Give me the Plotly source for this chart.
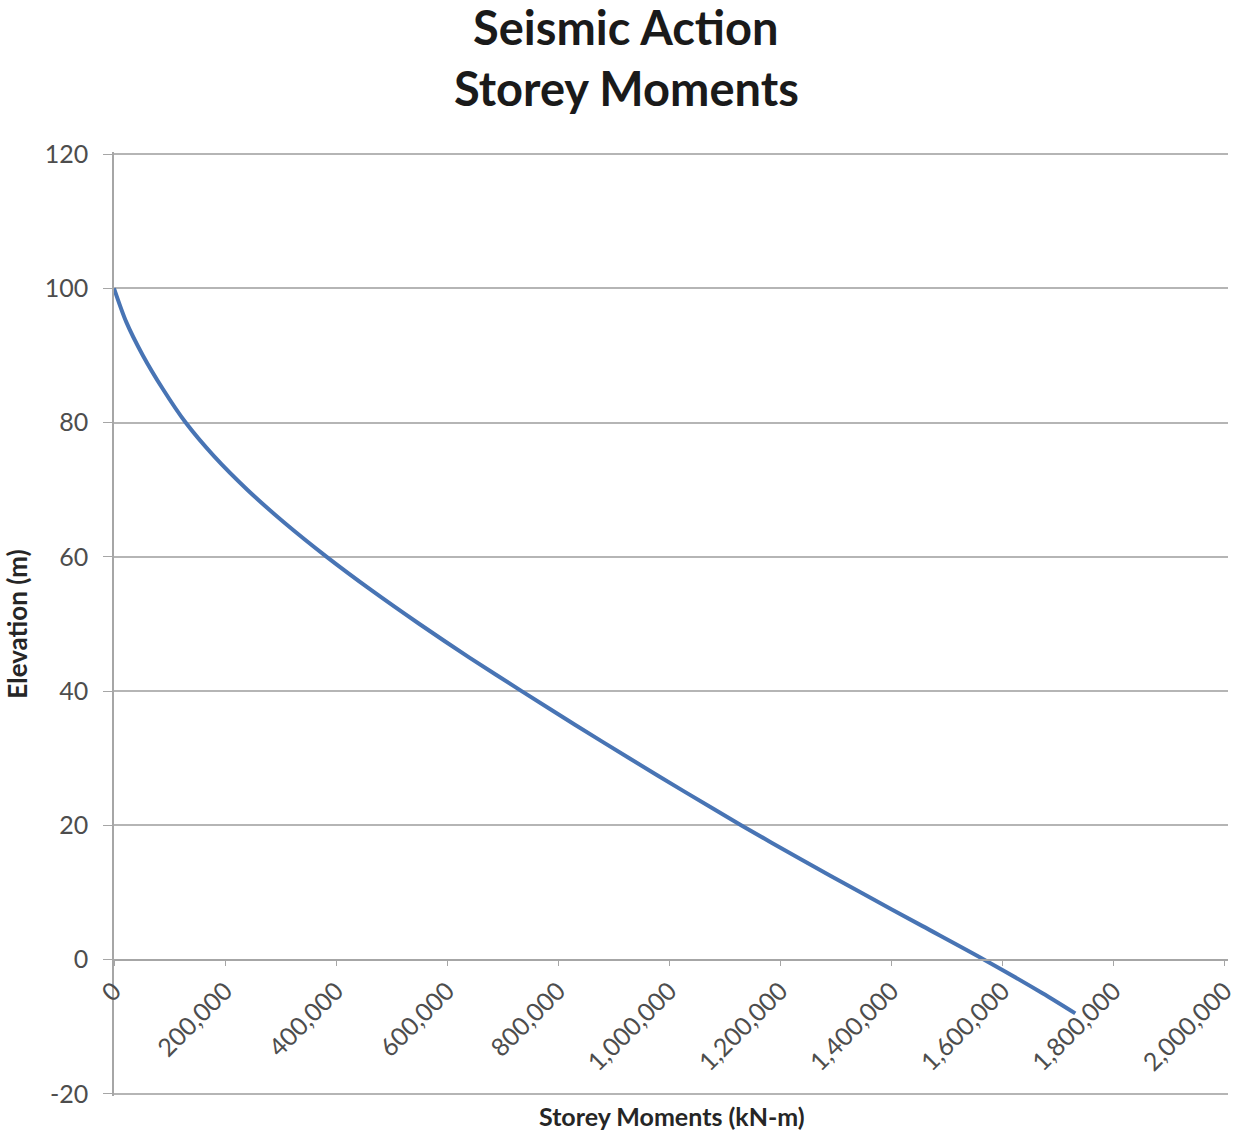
import plotly.graph_objects as go

# Storey moment profile down the building height (every 5 m, plus the base at -8 m)
elevation_m = [100, 95, 90, 85, 80, 75, 70, 65, 60, 55, 50, 45,
               40, 35, 30, 25, 20, 15, 10, 5, 0, -5, -8]
storey_moment_knm = [0, 22000, 52000, 88000, 129000, 180000, 240000, 308000,
                     383000, 464000, 550000, 640000, 734000, 830000, 928000,
                     1028000, 1130000, 1236000, 1345000, 1456000, 1567000,
                     1672000, 1731000]

x_tick_vals = [0, 200000, 400000, 600000, 800000, 1000000,
               1200000, 1400000, 1600000, 1800000, 2000000]
x_tick_text = ["0", "200,000", "400,000", "600,000", "800,000", "1,000,000",
               "1,200,000", "1,400,000", "1,600,000", "1,800,000", "2,000,000"]
y_tick_vals = [-20, 0, 20, 40, 60, 80, 100, 120]
y_tick_text = ["-20", "0", "20", "40", "60", "80", "100", "120"]

FONT = "Lato"
AXIS_GREY = "#a6a6a6"
GRID_GREY = "#b5b5b5"
TICK_TEXT = "#4d4d4d"
TITLE_TEXT = "#1a1a1a"

# small pad so the outermost gridlines at -20 and 120 are kept
Y_LO, Y_HI = -20.3, 120.3

MARGIN_L, MARGIN_R, MARGIN_T, MARGIN_B = 114, 8, 152, 37
FIG_W, FIG_H = 1236, 1133

fig = go.Figure()
fig.add_trace(go.Scatter(
    x=storey_moment_knm,
    y=elevation_m,
    mode="lines",
    line=dict(color="#4874b4", width=4, shape="spline", smoothing=0.8),
    showlegend=False,
))

fig.update_layout(
    width=FIG_W,
    height=FIG_H,
    margin=dict(l=MARGIN_L, r=MARGIN_R, t=MARGIN_T, b=MARGIN_B),
    paper_bgcolor="white",
    plot_bgcolor="white",
    xaxis=dict(
        range=[0, 2006000],
        tickmode="array",
        tickvals=x_tick_vals,
        ticktext=x_tick_text,
        tickangle=-45,
        anchor="free",
        position=(0 - Y_LO) / (Y_HI - Y_LO),
        automargin=False,
        showgrid=False,
        zeroline=False,
        showline=True,
        linecolor=AXIS_GREY,
        linewidth=1.5,
        ticks="outside",
        ticklen=6,
        tickcolor=AXIS_GREY,
        ticklabeloverflow="allow",
        tickfont=dict(family=FONT, size=25, color=TICK_TEXT),
    ),
    yaxis=dict(
        range=[Y_LO, Y_HI],
        tickmode="array",
        tickvals=y_tick_vals,
        ticktext=y_tick_text,
        automargin=False,
        showgrid=True,
        gridcolor=GRID_GREY,
        gridwidth=2,
        zeroline=False,
        showline=True,
        linecolor=AXIS_GREY,
        linewidth=1.5,
        ticks="outside",
        ticklen=9,
        tickcolor=AXIS_GREY,
        ticklabelstandoff=10,
        tickfont=dict(family=FONT, size=25, color=TICK_TEXT),
        title=dict(
            text="Elevation (m)",
            font=dict(family=FONT, size=26, color="#262626", weight=700),
            standoff=10,
        ),
    ),
)

# Two-line chart heading (positions in pixels from the top of the page)
plot_w = FIG_W - MARGIN_L - MARGIN_R
plot_h = FIG_H - MARGIN_T - MARGIN_B
for line_text, y_px in [("Seismic Action", 27), ("Storey Moments", 88)]:
    fig.add_annotation(
        text=line_text,
        xref="paper", yref="paper",
        x=(626 - MARGIN_L) / plot_w, y=1 + (MARGIN_T - y_px) / plot_h,
        xanchor="center", yanchor="middle",
        showarrow=False,
        font=dict(family=FONT, size=47, color=TITLE_TEXT, weight=700),
    )

fig.add_annotation(
    text="Storey Moments (kN-m)",
    xref="paper", yref="paper",
    x=(672 - MARGIN_L) / plot_w, y=(FIG_H - 1116 - MARGIN_B) / plot_h,
    xanchor="center", yanchor="middle",
    showarrow=False,
    font=dict(family=FONT, size=25, color="#262626", weight=700),
)

fig.write_html("out.html")
